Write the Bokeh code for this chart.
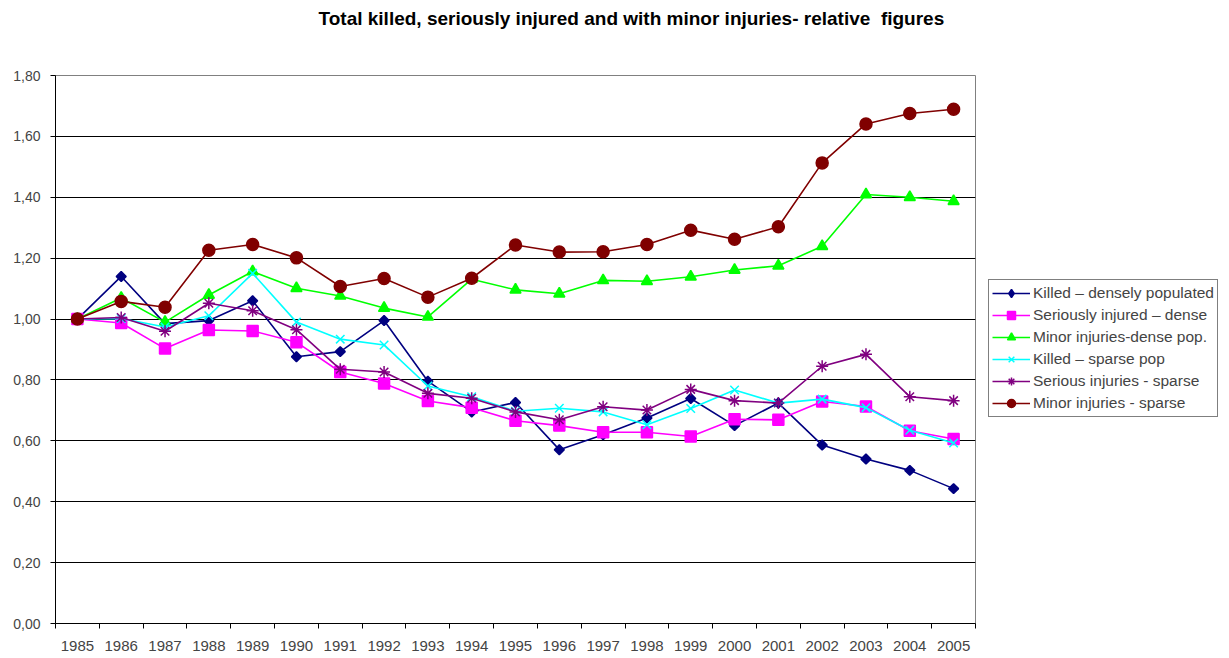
from bokeh.plotting import figure
from bokeh.models import (Legend, LegendItem, FixedTicker, CustomJSTickFormatter,
                          Range1d, Title)
from bokeh.layouts import row
from bokeh.embed import file_html
from bokeh.resources import INLINE
import math

years = ["1985", "1986", "1987", "1988", "1989", "1990", "1991", "1992", "1993", "1994",
         "1995", "1996", "1997", "1998", "1999", "2000", "2001", "2002", "2003", "2004", "2005"]

killed_dense = [1.00, 1.14, 0.985, 0.995, 1.06, 0.876, 0.893, 0.995, 0.796, 0.695,
                0.726, 0.571, 0.62, 0.675, 0.739, 0.65, 0.724, 0.586, 0.54, 0.503, 0.443]
serious_dense = [1.00, 0.987, 0.903, 0.964, 0.961, 0.924, 0.826, 0.788, 0.731, 0.709,
                 0.666, 0.65, 0.628, 0.628, 0.614, 0.671, 0.669, 0.729, 0.713, 0.633, 0.606]
minor_dense = [1.00, 1.069, 0.99, 1.079, 1.156, 1.101, 1.076, 1.036, 1.007, 1.131,
               1.096, 1.083, 1.127, 1.124, 1.139, 1.161, 1.175, 1.239, 1.409, 1.40, 1.387]
killed_sparse = [1.00, 1.002, 0.974, 1.011, 1.150, 0.99, 0.934, 0.915, 0.78, 0.745,
                 0.697, 0.707, 0.695, 0.653, 0.706, 0.767, 0.724, 0.737, 0.709, 0.635, 0.593]
serious_sparse = [1.00, 1.005, 0.96, 1.052, 1.027, 0.965, 0.835, 0.826, 0.756, 0.74,
                  0.695, 0.669, 0.712, 0.701, 0.769, 0.732, 0.724, 0.845, 0.884, 0.745, 0.732]
minor_sparse = [1.00, 1.058, 1.039, 1.226, 1.245, 1.201, 1.107, 1.133, 1.072, 1.134,
                1.243, 1.220, 1.221, 1.245, 1.292, 1.262, 1.303, 1.513, 1.641, 1.675, 1.689]

labels = ["Killed \u2013 densely populated", "Seriously injured \u2013 dense",
          "Minor injuries-dense pop.", "Killed \u2013 sparse pop",
          "Serious injuries - sparse", "Minor injuries - sparse"]
y_ticks = [0.0, 0.2, 0.4, 0.6, 0.8, 1.0, 1.2, 1.4, 1.6, 1.8]
title_text = "Total killed, seriously injured and with minor injuries- relative\u00a0 figures"

FONT = "Liberation Sans"
x = list(range(len(years)))

H = 656
W1 = 985
W2 = 1229 - W1
p = figure(width=W1, height=H, output_backend="svg", toolbar_location=None,
           x_range=Range1d(-0.5, len(years) - 0.5), y_range=Range1d(0, 1.8),
           min_border_left=55, min_border_right=W1 - 975, min_border_top=70,
           min_border_bottom=H - 623)
p.background_fill_color = "white"
p.border_fill_color = "white"
p.outline_line_color = "#808080"
p.outline_line_width = 1

spacer = Title(text=" ", text_font=FONT, text_font_size="26px", text_color="white")
p.add_layout(spacer, "above")
p.title = Title(text=title_text, text_font=FONT, text_font_size="19px",
                text_font_style="bold", align="left", offset=263, text_color="black")

p.xgrid.grid_line_color = None
p.ygrid.grid_line_color = "black"
p.ygrid.grid_line_width = 1
p.ygrid.ticker = FixedTicker(ticks=y_ticks)

p.yaxis.ticker = FixedTicker(ticks=y_ticks)
p.yaxis.formatter = CustomJSTickFormatter(code="return tick.toFixed(2).replace('.', ',');")
p.yaxis.major_tick_in = 0
p.yaxis.major_tick_out = 5
p.yaxis.minor_tick_line_color = None
p.yaxis.axis_line_color = "black"
p.yaxis.major_label_text_font = FONT
p.yaxis.major_label_text_font_size = "14px"
p.yaxis.major_label_standoff = 10

p.xaxis.ticker = FixedTicker(ticks=x, minor_ticks=[i - 0.5 for i in range(len(years) + 1)])
p.xaxis.major_label_overrides = {i: y for i, y in enumerate(years)}
p.xaxis.major_tick_in = 0
p.xaxis.major_tick_out = 0
p.xaxis.minor_tick_in = 0
p.xaxis.minor_tick_out = 5
p.xaxis.minor_tick_line_color = "black"
p.xaxis.axis_line_color = "black"
p.xaxis.major_label_text_font = FONT
p.xaxis.major_label_text_font_size = "15px"
p.xaxis.major_label_standoff = 12

series = [
    (killed_dense, "#000080", "square", 7, 45, "diamond", 11),
    (serious_dense, "#FF00FF", "square", 11, 0, "square", 11),
    (minor_dense, "#00FF00", "triangle", 11, 0, "triangle", 11),
    (killed_sparse, "#00FFFF", "x", 12, 0, "x", 12),
    (serious_sparse, "#800080", "asterisk", 12, 0, "asterisk", 12),
    (minor_sparse, "#800000", "circle", 12, 0, "circle", 12),
]

# legend panel: a separate figure to the right of the chart; its renderers hold the
# same series but its ranges are set so that they fall outside its (invisible) frame
q = figure(width=W2, height=H, output_backend="svg", toolbar_location=None,
           x_axis_type=None, y_axis_type=None, min_border=0,
           x_range=Range1d(-200, -199), y_range=Range1d(-200, -199))
q.outline_line_color = None
q.grid.grid_line_color = None
q.background_fill_color = "white"
q.border_fill_color = "white"

items = []
for (vals, col, mk, sz, ang, lmk, lsz), lab in zip(series, labels):
    p.line(x, vals, line_color=col, line_width=1.6)
    p.scatter(x, vals, marker=mk, size=sz, angle=math.radians(ang), line_color=col,
              fill_color=col, line_width=1.5)
    lr = q.line(x, vals, line_color=col, line_width=1.6)
    sr = q.scatter(x, vals, marker=lmk, size=lsz, line_color=col, fill_color=col,
                   line_width=1.5)
    items.append(LegendItem(label=lab, renderers=[lr, sr]))

legend = Legend(items=items, location=(3, 623 - 417))
legend.border_line_color = "black"
legend.border_line_width = 1
legend.background_fill_color = "white"
legend.background_fill_alpha = 1
legend.label_text_font = FONT
legend.label_text_font_size = "15.5px"
legend.glyph_width = 38
legend.glyph_height = 20
legend.label_height = 20
legend.spacing = 2
legend.padding = 3
legend.margin = 0
legend.label_standoff = 3
q.add_layout(legend, "center")

layout = row(p, q)
open("out.html", "w").write(file_html(layout, INLINE))
